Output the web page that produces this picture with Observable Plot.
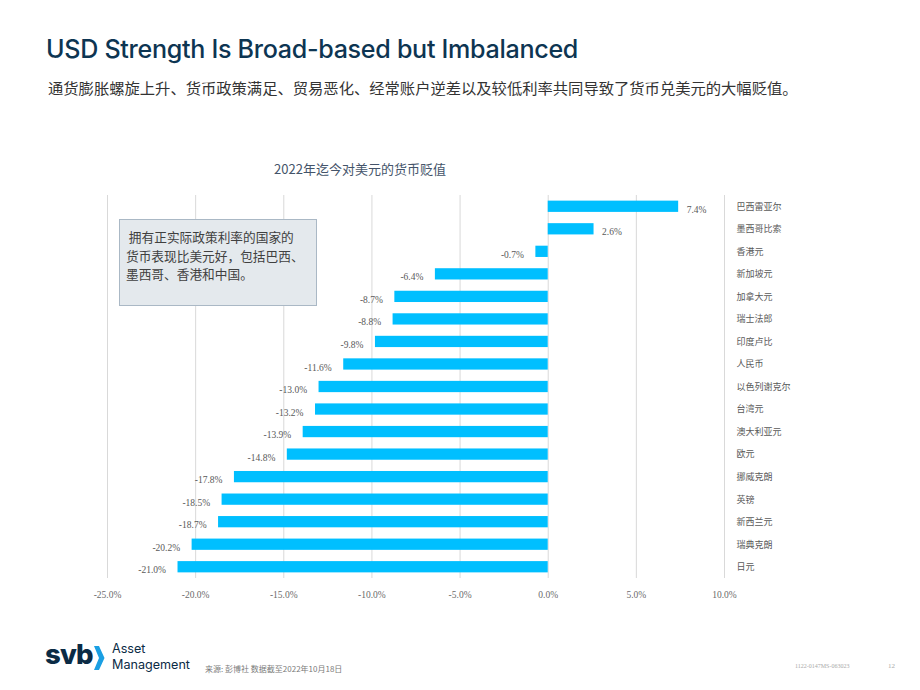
<!DOCTYPE html>
<html>
<head>
<meta charset="utf-8">
<script src="https://cdn.jsdelivr.net/npm/d3@7"></script>
<script src="https://cdn.jsdelivr.net/npm/@observablehq/plot@0.6"></script>
<style>
  html, body { margin: 0; padding: 0; background: #fff; }
  #page { position: relative; width: 920px; height: 690px; overflow: hidden; font-family: Inter, "Noto Sans", sans-serif; }
  .abs { position: absolute; white-space: nowrap; }
  #title { left: 46px; top: 34px; font-size: 25.1px; font-weight: 500; color: #0d3552; letter-spacing: -0.3px; }
  #subtitle { left: 48px; top: 76px; font-family: "Noto Sans CJK SC", sans-serif; font-size: 15.3px; color: #333; }
  #chart-title { left: 0; width: 720px; text-align: center; top: 159px; font-family: "Noto Sans CJK SC", sans-serif; font-size: 13px; color: #44546a; }
  #chart { left: 0; top: 180px; }
  #note { left: 119px; top: 219px; width: 185px; height: 75px; padding: 8px 5px 2px 6px; background: #e4e9ed; border: 1.5px solid #aab8c5;
          font-family: "Noto Sans CJK SC", sans-serif; font-size: 12.7px; line-height: 18.5px; color: #404040; }
  #logo-svb { left: 45px; top: 637px; font-family: Inter, sans-serif; font-weight: 800; font-size: 27.5px; color: #0b2b45; letter-spacing: -0.8px; }
  #logo-chev { left: 93px; top: 645px; }
  .logo-am { left: 112px; font-family: Inter, sans-serif; font-size: 12.6px; line-height: 15.5px; height: 15.5px; color: #0b2b45; }
  #logo-a { top: 641px; }
  #logo-m { top: 656.5px; }
  #source { left: 205px; top: 663px; font-family: "Noto Sans CJK SC", sans-serif; font-size: 8px; color: #7a7a7a; }
  #code { left: 795px; top: 663px; font-family: "Liberation Serif", serif; font-size: 6px; color: #a9a9a9; }
  #pnum { left: 888px; top: 662px; font-family: "Liberation Serif", serif; font-size: 7px; color: #a9a9a9; }
</style>
</head>
<body>
<div id="page">
  <div id="title" class="abs">USD Strength Is Broad-based but Imbalanced</div>
  <div id="subtitle" class="abs">通货膨胀螺旋上升、货币政策满足、贸易恶化、经常账户逆差以及较低利率共同导致了货币兑美元的大幅贬值。</div>
  <div id="chart-title" class="abs">2022年迄今对美元的货币贬值</div>
  <div id="chart" class="abs"></div>
  <div id="note" class="abs">&nbsp;拥有正实际政策利率的国家的<br>货币表现比美元好，包括巴西、<br>墨西哥、香港和中国。</div>
  <div id="logo-svb" class="abs">svb</div>
  <svg id="logo-chev" class="abs" width="12" height="26" viewBox="0 0 12 26"><path d="M1 1 L6 1 L11.5 13 L6 25 L1 25 L6 13 Z" fill="#1a9fe3"/></svg>
  <div id="logo-a" class="abs logo-am">Asset</div>
  <div id="logo-m" class="abs logo-am">Management</div>
  <div id="source" class="abs">来源: 彭博社 数据截至2022年10月18日</div>
  <div id="code" class="abs">1122-0147MS-063023</div>
  <div id="pnum" class="abs">12</div>
</div>
<script>
// Year-to-date change of each currency against the US dollar (%), 2022
const currencies = ["巴西雷亚尔", "墨西哥比索", "香港元", "新加坡元", "加拿大元", "瑞士法郎", "印度卢比", "人民币",
  "以色列谢克尔", "台湾元", "澳大利亚元", "欧元", "挪威克朗", "英镑", "新西兰元", "瑞典克朗", "日元"];
const changes = [7.4, 2.6, -0.7, -6.4, -8.7, -8.8, -9.8, -11.6, -13.0, -13.2, -13.9, -14.8, -17.8, -18.5, -18.7, -20.2, -21.0];
const xTicks = [-25, -20, -15, -10, -5, 0, 5, 10];

const rows = currencies.map((c, i) => ({currency: c, value: changes[i]}));
const pct = d => d.toFixed(1) + "%";

const chart = Plot.plot({
  width: 920,
  height: 428,
  marginLeft: 107,
  marginRight: 196,
  marginTop: 15,
  marginBottom: 30,
  style: {fontFamily: "'Liberation Serif', serif", fontSize: "9.5px", background: "transparent"},
  x: {domain: [-25, 10], label: null},
  y: {domain: currencies, paddingInner: 0.5, paddingOuter: 0.25, round: false, label: null},
  marks: [
    Plot.gridX(xTicks, {stroke: "#d9d9d9", strokeOpacity: 1, strokeWidth: 1}),
    Plot.barX(rows, {x: "value", y: "currency", fill: "#00bfff"}),
    Plot.text(rows.filter(d => d.value < 0), {x: "value", y: "currency", text: d => pct(d.value), textAnchor: "end", dx: -12, dy: 3, fill: "#595959"}),
    Plot.text(rows.filter(d => d.value >= 0), {x: "value", y: "currency", text: d => pct(d.value), textAnchor: "start", dx: 8, dy: 3, fill: "#595959"}),
    Plot.axisX(xTicks, {tickSize: 0, tickPadding: 13, tickFormat: pct, fill: "#6b6b6b", label: null}),
    Plot.axisY({anchor: "right", tickSize: 0, tickPadding: 12, textAnchor: "start", fill: "#595959",
      fontFamily: "'Noto Sans CJK SC', sans-serif", fontSize: 9, label: null})
  ]
});
document.getElementById("chart").appendChild(chart);
</script>
</body>
</html>
